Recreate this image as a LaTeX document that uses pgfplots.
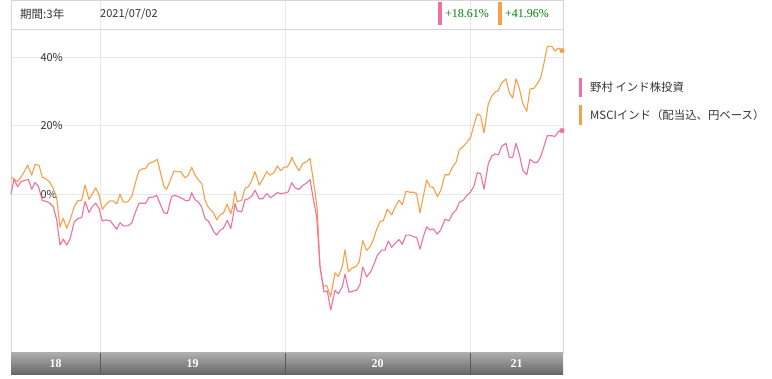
\documentclass[border=0pt]{standalone}
\usepackage{fontspec}
\usepackage{pgfplots}
\pgfplotsset{compat=1.18}
\setmainfont{Noto Sans CJK JP}
\newfontfamily\serifnum{Liberation Serif}
\definecolor{pinkline}{RGB}{240,112,160}
\definecolor{orangeline}{RGB}{248,160,72}
\definecolor{gridc}{RGB}{232,232,232}
\definecolor{framec}{RGB}{214,214,214}
\definecolor{greentxt}{RGB}{0,128,0}
\definecolor{txt}{RGB}{51,51,51}
\definecolor{bartop}{RGB}{172,172,172}
\definecolor{barbot}{RGB}{104,104,104}

\pgfplotstableread{
x y
0 5.0
6.7 3.7
12.3 6.1
16.7 8.5
20.7 5.6
24 8.7
28 8.5
31.3 5.0
35.7 4.4
39 3.4
42.3 1.7
45.7 -1.2
49 -9.6
52.3 -7.0
55.7 -9.9
59 -7.5
63.3 -3.6
66.7 -1.9
70.7 -1.7
74 2.7
78 -1.5
81.3 0.1
84.7 1.9
88 -0.2
91.3 -4.4
94.7 -3.1
99 -1.9
102.3 -1.9
105.7 -2.8
109 0.0
112.3 -2.3
116.7 -2.2
120.7 -0.7
124.7 3.7
128 6.9
131.3 7.4
134.7 7.6
138 9.0
142.3 9.5
146.3 10.2
149.7 6.1
153 2.2
155.7 1.5
159.7 4.4
163 6.8
166.3 6.6
169.7 6.6
174 4.8
177.3 5.6
180.7 7.9
184 5.6
187.3 4.2
190.7 3.2
194 -1.7
197.3 -3.8
200.7 -4.8
203 -5.7
205.7 -7.5
209 -6.0
212.3 -5.5
216.3 -2.9
219.7 -5.7
221.7 -3.6
224 0.8
226.3 -2.2
230.7 -1.7
234 1.7
237.3 2.2
240.7 4.0
244 6.6
248.3 2.7
252.3 4.7
255.7 6.6
259 5.6
263 6.3
266.3 8.3
269.7 6.9
273 7.9
276.3 8.0
279 9.2
280.7 10.8
284 8.8
288 6.9
291.7 9.0
295.7 9.5
299 10.5
304 0.8
306.3 -4.6
309 -21.1
312.3 -26.9
315.7 -26.6
319.7 -29.9
324 -22.9
327.3 -24.0
331.3 -21.1
334 -16.2
337.3 -22.6
340.7 -21.6
345 -21.1
348.3 -19.6
351.7 -13.5
355.7 -16.4
359 -15.3
362.3 -13.3
365.7 -10.2
369 -8.0
372.3 -7.7
376.3 -4.4
380.7 -6.0
384 -3.8
388 -1.7
391.3 -3.1
395 0.9
399 0.6
403 0.6
405.7 0.1
409 -5.4
412.3 -0.6
415.7 4.2
419 2.2
422.3 2.0
426.3 -0.7
429.7 1.1
434 5.7
438 5.7
441.7 8.1
445 9.3
448.3 13.0
452.3 14.0
455.7 15.1
459.7 16.7
463 20.3
466.3 23.5
469.7 22.9
473 17.9
477.3 26.4
480.7 28.6
484 29.8
487.3 30.3
490.7 32.5
495 33.7
498.3 29.6
501.7 28.1
505 33.7
508.3 31.0
511.7 26.6
515.7 24.2
519 30.7
523 31.0
526.3 32.3
529.7 34.0
533 38.3
536.3 43.2
540.7 43.2
544 41.8
547.3 42.7
551 41.96
}\msci

\pgfplotstableread{
x y
0 0
3 4.4
6.7 2.2
10 3.7
13.3 4.0
17.3 4.4
20.7 1.5
24 3.4
27.3 2.4
31.3 -1.8
35.7 -2.1
39 -2.6
42.3 -3.6
45.7 -7.5
49 -14.8
52.3 -13.1
55.7 -14.8
59 -13.1
63.3 -8.0
67.3 -7.0
70.7 -6.8
74 -2.1
78 -5.3
81.3 -3.6
84.7 -2.6
88 -4.1
91.3 -7.8
94.7 -7.5
99 -7.7
102.3 -8.9
105.7 -10.2
109 -8.3
112.3 -9.2
116.7 -9.2
120.7 -8.4
124.7 -5.0
128 -2.6
131.3 -2.6
134.7 -2.6
138 -0.9
142.3 -0.8
145.7 -0.3
149.7 -3.2
153 -5.4
156.3 -5.6
160.7 -0.6
164 -0.3
168.3 -0.8
171.7 -1.3
175 -1.9
178.3 -1.7
180.7 0.5
184 -1.6
187.3 -2.2
190.7 -3.7
194 -7.1
197.3 -7.8
200.7 -9.7
203 -11.0
205.7 -11.9
209 -10.5
212.3 -10.0
216.3 -7.6
219.7 -10.0
221.7 -7.1
224 -2.7
226.3 -4.9
230.7 -5.1
234 -1.6
237.3 -1.3
240.7 -0.6
244 1.2
248.3 -1.3
251.7 -1.3
255.7 0.2
259.7 -1.0
263 -0.3
266.3 0.5
269.7 0.2
274 0.4
277.3 0.7
279 2.1
280.7 3.4
284 1.9
288 1.4
291.7 2.6
295.7 3.3
299 4.3
302.3 -1.3
305.7 -6.6
309 -21.2
313 -28.5
316.3 -28.2
319.7 -33.8
324 -28.0
327.3 -29.1
331.3 -27.0
334 -23.3
338 -28.6
341.7 -28.3
345.7 -28.0
349 -26.3
351.7 -21.2
355.7 -24.1
359.7 -22.6
363 -20.4
366.3 -17.8
370.7 -16.3
374 -16.3
377.3 -13.6
380.7 -15.5
384 -14.4
388 -13.2
391.3 -14.6
395 -11.9
399 -11.9
403 -12.4
405.7 -12.6
409 -16.0
412.3 -12.4
415.7 -9.5
419 -10.4
422.3 -10.1
426.3 -11.6
429.7 -10.4
434 -7.3
438 -7.7
441.7 -5.6
445 -4.6
448.3 -2.4
452.3 -1.7
455.7 -0.4
459.7 0.8
463 2.4
466.3 6.3
469.7 6.0
473 1.5
477.3 8.9
480.7 11.2
484 11.8
487.3 11.5
490.7 14.0
495 14.9
498.3 10.8
501.7 10.8
505 14.9
508.3 11.8
511.7 7.1
515.7 5.7
519 10.2
523 9.3
526.3 9.3
529.7 11.0
533 14.0
536.3 17.1
540.7 17.1
544 16.9
547.3 18.3
551 18.61
}\nomura

\begin{document}
\begin{tikzpicture}[x=1pt,y=1pt]
\useasboundingbox (0,0) rectangle (772,378);
\begin{axis}[
  at={(11pt,26pt)}, anchor=south west,
  scale only axis, width=552pt, height=352pt,
  xmin=0, xmax=552, ymin=-46.04, ymax=56.73,
  xtick={89,274,459}, xticklabels={},
  ytick={0,20,40},
  yticklabel={\pgfmathprintnumber{\tick}\%},
  yticklabel style={anchor=west, xshift=26pt, font=\fontsize{11}{13}\selectfont, text=txt},
  /pgf/number format/assume math mode=true,
  grid=major, major grid style={draw=gridc, line width=0.9pt},
  major tick length=0pt,
  axis line style={draw=framec, line width=0.9pt},
  clip=false,
]
\addplot[orangeline, line width=1.1pt, line join=round] table[x=x,y=y] {\msci};
\addplot[pinkline, line width=1.1pt, line join=round] table[x=x,y=y] {\nomura};
\addplot[only marks, mark=*, mark size=2.3pt, orangeline] coordinates {(551,41.96)};
\addplot[only marks, mark=*, mark size=2.3pt, pinkline] coordinates {(551,18.61)};
\end{axis}
% header
\draw[framec, line width=0.9pt] (11,349) -- (563,349);
\node[anchor=west, inner sep=0pt, text=txt, font=\fontsize{11.5}{13}\selectfont] at (20,364) {期間:3年};
\node[anchor=west, inner sep=0pt, text=txt, font=\fontsize{11}{13}\selectfont] at (100,364) {2021/07/02};
\fill[pinkline] (438,353) rectangle (442,376);
\node[anchor=west, inner sep=0pt, text=greentxt, font=\serifnum\fontsize{12}{14}\selectfont] at (445,364) {+18.61\%};
\fill[orangeline] (498,353) rectangle (502,376);
\node[anchor=west, inner sep=0pt, text=greentxt, font=\serifnum\fontsize{12}{14}\selectfont] at (505,364) {+41.96\%};
% bottom bar
\shade[top color=bartop, bottom color=barbot] (11,4) rectangle (563,25);
\foreach \xx in {100,285,470} \draw[black!65, line width=0.9pt] (\xx,4) -- (\xx,25);
\foreach \xx/\lab in {55.5/18,192.5/19,377.5/20,516.5/21}
  \node[text=white, font=\serifnum\bfseries\fontsize{12}{14}\selectfont] at (\xx,14.5) {\lab};
% legend
\fill[pinkline] (579,281.3) rectangle (581.5,300);
\node[anchor=west, inner sep=0pt, text=txt, font=\fontsize{11.4}{13}\selectfont] at (590,291) {野村 インド株投資};
\fill[orangeline] (579,253) rectangle (581.5,273);
\node[anchor=west, inner sep=0pt, text=txt, font=\fontsize{11.4}{13}\selectfont] at (590,263) {MSCIインド（配当込、円ベース）};
\end{tikzpicture}
\end{document}
